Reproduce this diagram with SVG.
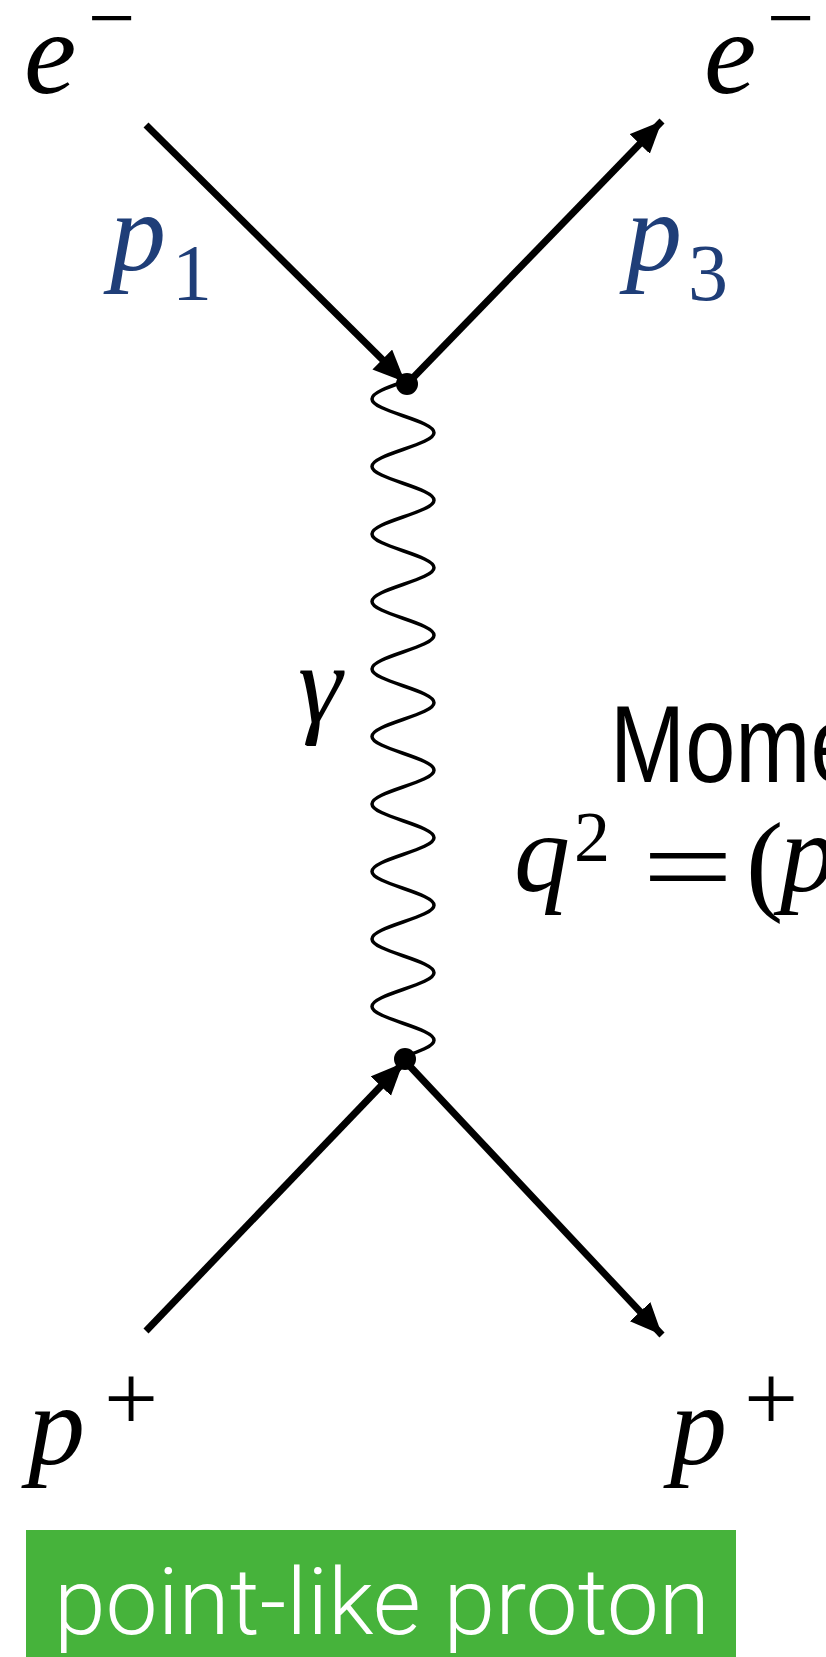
<svg xmlns="http://www.w3.org/2000/svg" width="826" height="1657" viewBox="0 0 826 1657">
  <defs>
    <marker id="arrow" markerUnits="userSpaceOnUse" markerWidth="36" markerHeight="30" refX="32" refY="14" orient="auto">
      <path d="M0,0 L32,14 L0,28 z" fill="#000"/>
    </marker>
  </defs>
  <rect width="826" height="1657" fill="#fff"/>
  <g id="connectors" stroke="#000" fill="none">
    <line stroke-width="7" x1="146" y1="125" x2="405" y2="382" marker-end="url(#arrow)"/>
    <line stroke-width="7" x1="407" y1="384" x2="662" y2="121" marker-end="url(#arrow)"/>
    <line stroke-width="7" x1="146" y1="1331" x2="403" y2="1063" marker-end="url(#arrow)"/>
    <line stroke-width="7" x1="405" y1="1061" x2="662" y2="1335" marker-end="url(#arrow)"/>
    <path id="photon" stroke-width="3.5" d="M403,382 c -15.88,5.50 -31,10.77 -31,16.875 c 0,6.11 15.12,11.37 31,16.875 c 15.88,5.50 31,10.77 31,16.875 c 0,6.11 -15.12,11.37 -31,16.875 c -15.88,5.50 -31,10.77 -31,16.875 c 0,6.11 15.12,11.37 31,16.875 c 15.88,5.50 31,10.77 31,16.875 c 0,6.11 -15.12,11.37 -31,16.875 c -15.88,5.50 -31,10.77 -31,16.875 c 0,6.11 15.12,11.37 31,16.875 c 15.88,5.50 31,10.77 31,16.875 c 0,6.11 -15.12,11.37 -31,16.875 c -15.88,5.50 -31,10.77 -31,16.875 c 0,6.11 15.12,11.37 31,16.875 c 15.88,5.50 31,10.77 31,16.875 c 0,6.11 -15.12,11.37 -31,16.875 c -15.88,5.50 -31,10.77 -31,16.875 c 0,6.11 15.12,11.37 31,16.875 c 15.88,5.50 31,10.77 31,16.875 c 0,6.11 -15.12,11.37 -31,16.875 c -15.88,5.50 -31,10.77 -31,16.875 c 0,6.11 15.12,11.37 31,16.875 c 15.88,5.50 31,10.77 31,16.875 c 0,6.11 -15.12,11.37 -31,16.875 c -15.88,5.50 -31,10.77 -31,16.875 c 0,6.11 15.12,11.37 31,16.875 c 15.88,5.50 31,10.77 31,16.875 c 0,6.11 -15.12,11.37 -31,16.875 c -15.88,5.50 -31,10.77 -31,16.875 c 0,6.11 15.12,11.37 31,16.875 c 15.88,5.50 31,10.77 31,16.875 c 0,6.11 -15.12,11.37 -31,16.875 c -15.88,5.50 -31,10.77 -31,16.875 c 0,6.11 15.12,11.37 31,16.875 c 15.88,5.50 31,10.77 31,16.875 c 0,6.11 -15.12,11.37 -31,16.875 c -15.88,5.50 -31,10.77 -31,16.875 c 0,6.11 15.12,11.37 31,16.875 c 15.88,5.50 31,10.77 31,16.875 c 0,6.11 -15.12,11.37 -31,16.875"/>
  </g>
  <g id="vertex-top"><circle cx="407" cy="384" r="11" fill="#000"/></g>
  <g id="vertex-bottom"><circle cx="405" cy="1059" r="11" fill="#000"/></g>
  <g id="electron-in" fill="#000" font-size="118">
    <text x="24" y="93" font-family="Liberation Serif" font-style="italic">e</text>
    <text x="88" y="46" font-family="Liberation Serif" font-size="84">&#x2212;</text>
  </g>
  <g id="electron-out" fill="#000" font-size="118">
    <text x="704" y="93" font-family="Liberation Serif" font-style="italic">e</text>
    <text x="767" y="46" font-family="Liberation Serif" font-size="84">&#x2212;</text>
  </g>
  <g id="label-p1" fill="#1F3E78" font-size="112">
    <text x="110" y="270" font-family="Liberation Serif" font-style="italic">p</text>
    <text x="172" y="300" font-family="Liberation Serif" font-size="80">1</text>
  </g>
  <g id="label-p3" fill="#1F3E78" font-size="112">
    <text x="626" y="270" font-family="Liberation Serif" font-style="italic">p</text>
    <text x="688" y="300" font-family="Liberation Serif" font-size="80">3</text>
  </g>
  <g id="label-gamma" fill="#000" font-size="112">
    <text x="298" y="722" font-family="Liberation Serif" font-style="italic">&#x3B3;</text>
  </g>
  <g id="momentum-text" fill="#000" font-size="110">
    <text font-family="Liberation Sans" transform="translate(610,782) scale(0.82,1)">Mome</text>
  </g>
  <g id="equation" fill="#000" font-size="112">
    <text x="514" y="891" font-family="Liberation Serif" font-style="italic">q</text>
    <text x="574" y="861" font-family="Liberation Serif" font-size="72">2</text>
    <text font-family="Liberation Serif" transform="translate(642,904) scale(1.45,1)">=</text>
    <text x="746" y="900" font-family="Liberation Serif">(</text>
    <text x="780" y="891" font-family="Liberation Serif" font-style="italic">p</text>
  </g>
  <g id="proton-in" fill="#000" font-size="114">
    <text x="28" y="1464" font-family="Liberation Serif" font-style="italic">p</text>
    <text x="104" y="1430" font-family="Liberation Serif" font-size="96">+</text>
  </g>
  <g id="proton-out" fill="#000" font-size="114">
    <text x="670" y="1464" font-family="Liberation Serif" font-style="italic">p</text>
    <text x="744" y="1430" font-family="Liberation Serif" font-size="96">+</text>
  </g>
  <g id="point-like-box">
    <rect x="26" y="1530" width="710" height="127" fill="#46B33B"/>
    <text x="54" y="1634" font-family="Roboto" font-weight="300" font-size="92" fill="#fff" textLength="656" lengthAdjust="spacingAndGlyphs">point-like proton</text>
  </g>
</svg>
